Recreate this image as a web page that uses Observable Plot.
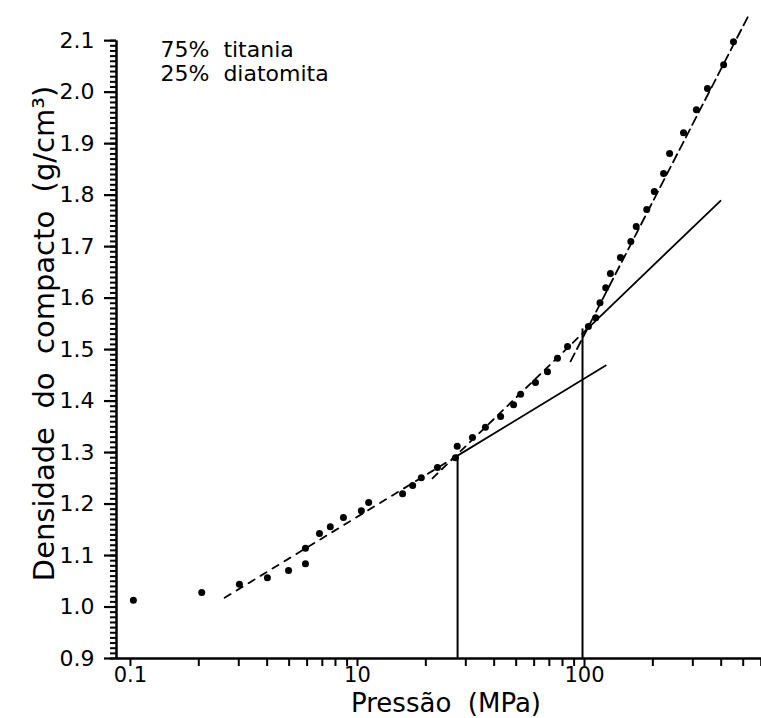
<!DOCTYPE html>
<html>
<head>
<meta charset="utf-8">
<script src="https://cdn.jsdelivr.net/npm/d3@7"></script>
<script src="https://cdn.jsdelivr.net/npm/@observablehq/plot@0.6"></script>
<style>
  html, body { margin: 0; padding: 0; background: #fff; }
  #chart { width: 761px; height: 718px; overflow: hidden; }
</style>
</head>
<body>
<div id="chart"></div>
<script>
// Measured points: pressure (MPa) and green-compact density (g/cm3)
const pressure = [1.03, 2.06, 3.02, 4.01, 4.97, 5.90, 5.90, 6.80, 7.59, 8.67,
  10.4, 11.2, 15.8, 17.5, 19.1, 22.5, 27.0, 27.5, 32.1, 36.6,
  42.7, 48.7, 52.3, 60.8, 68.7, 76.0, 84.2, 104, 112, 117,
  124, 130, 144, 160, 169, 188, 203, 223, 237, 273,
  311, 348, 410, 453];
const density = [1.013, 1.028, 1.044, 1.057, 1.071, 1.084, 1.114, 1.143, 1.156, 1.174,
  1.187, 1.203, 1.220, 1.236, 1.251, 1.271, 1.290, 1.312, 1.329, 1.349,
  1.370, 1.393, 1.413, 1.436, 1.457, 1.483, 1.506, 1.545, 1.562, 1.591,
  1.620, 1.648, 1.679, 1.710, 1.739, 1.772, 1.807, 1.842, 1.881, 1.921,
  1.966, 2.007, 2.053, 2.098];

// Fitted straight lines (log pressure): start, break (dashed -> solid), end
const fit1Pressure = [2.6, 27.6, 124];
const fit1Density  = [1.018, 1.294, 1.469];
const fit2Pressure = [21.4, 101, 397];
const fit2Density  = [1.250, 1.537, 1.789];
const fit3Pressure = [86.8, 528];
const fit3Density  = [1.477, 2.149];

// Vertical markers at the break pressures
const breakPressure = [27.6, 98];
const breakDensity  = [1.29, 1.54];

// Axes
const xDomain = [0.868, 602];
const yDomain = [0.9, 2.178];
const xTicks = [1, 2, 3, 4, 5, 6, 7, 8, 9, 10, 20, 30, 40, 50, 60, 70, 80, 90, 100, 200, 300, 400, 500, 600];
const xTickLabels = new Map([[1, "0.1"], [10, "10"], [100, "100"]]);
const yMajor = d3.range(9, 22).map(d => d / 10);
const yMinor = d3.range(90, 211).map(d => d / 100);

const annotation = ["75%  titania\n25%  diatomita"];
const xLabel = ["Pressão  (MPa)"];
const yLabel = ["Densidade  do  compacto  (g/cm³)"];

const points = pressure.map((p, i) => ({p, d: density[i]}));
const seg = (P, D, a, b) => P.slice(a, b + 1).map((p, i) => ({p, d: D[a + i]}));

const chart = Plot.plot({
  width: 761,
  height: 718,
  marginLeft: 116,
  marginRight: 0,
  marginTop: 0,
  marginBottom: 60,
  style: {fontFamily: "DejaVu Sans", color: "black", background: "white", overflow: "visible"},
  x: {type: "log", domain: xDomain},
  y: {domain: yDomain},
  marks: [
    // axis lines
    Plot.ruleY([yMajor[0]], {stroke: "black", strokeWidth: 2.5}),
    Plot.ruleX([xDomain[0]], {y1: yMajor[0], y2: yMajor[yMajor.length - 1], stroke: "black", strokeWidth: 2.5}),
    Plot.axisY({ticks: yMinor, tickSize: 6, tickFormat: () => "", strokeWidth: 2, label: null}),
    Plot.axisY({ticks: yMajor, tickSize: 12, tickPadding: 10, strokeWidth: 2.2,
      tickFormat: d3.format(".1f"), fontSize: 22, label: null}),
    Plot.axisX({ticks: xTicks, tickSize: 8, tickPadding: 1, strokeWidth: 2,
      tickFormat: d => xTickLabels.get(d) ?? "", fontSize: 21, label: null}),
    // verticals
    Plot.ruleX(breakPressure.map((p, i) => ({p, d: breakDensity[i]})),
      {x: "p", y1: yMajor[0], y2: "d", stroke: "black", strokeWidth: 2}),
    // fit line 1
    Plot.line(seg(fit1Pressure, fit1Density, 0, 1), {x: "p", y: "d", stroke: "black", strokeWidth: 1.8, strokeDasharray: "7,7"}),
    Plot.line(seg(fit1Pressure, fit1Density, 1, 2), {x: "p", y: "d", stroke: "black", strokeWidth: 1.8}),
    // fit line 2
    Plot.line(seg(fit2Pressure, fit2Density, 0, 1), {x: "p", y: "d", stroke: "black", strokeWidth: 1.8, strokeDasharray: "7,6"}),
    Plot.line(seg(fit2Pressure, fit2Density, 1, 2), {x: "p", y: "d", stroke: "black", strokeWidth: 1.8}),
    // fit line 3
    Plot.line(seg(fit3Pressure, fit3Density, 0, 1), {x: "p", y: "d", stroke: "black", strokeWidth: 1.8, strokeDasharray: "9,5"}),
    // data points
    Plot.dot(points, {x: "p", y: "d", r: 3.5, fill: "black", stroke: "none"}),
    // texts
    Plot.text(annotation, {text: d => d, frameAnchor: "top-left", dx: 44, dy: 39, fontSize: 22, lineHeight: 1.1, textAnchor: "start", lineAnchor: "top"}),
    Plot.text(xLabel, {text: d => d, frameAnchor: "bottom", dx: 7, dy: 53, fontSize: 26, lineAnchor: "bottom"}),
    Plot.text(yLabel, {text: d => d, frameAnchor: "left", rotate: -90, dx: -72, dy: 4, fontSize: 29, lineAnchor: "middle", textAnchor: "middle"})
  ]
});
document.getElementById("chart").append(chart);
</script>
</body>
</html>
